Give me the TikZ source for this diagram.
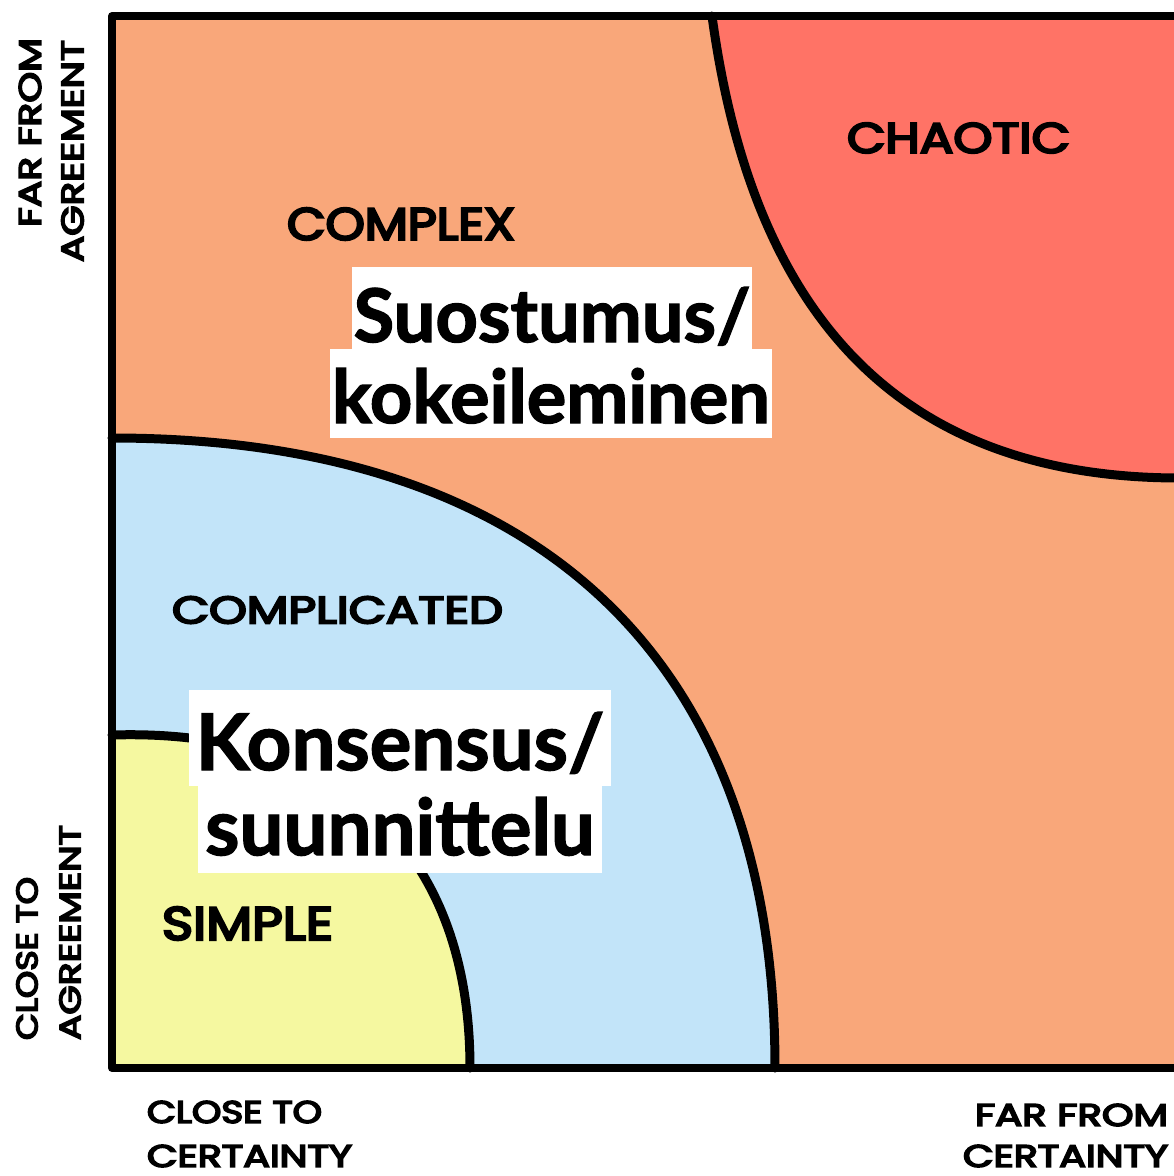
\documentclass[tikz,border=0pt]{standalone}
\usepackage{fontspec}
\usepackage{graphicx}
\setmainfont{Lato}
\newfontfamily\callfont{Lato}[BoldFeatures={FakeBold=1.8}]
\newfontfamily\hand{Poppins}
\definecolor{cOrange}{HTML}{F9A77A}
\definecolor{cRed}{HTML}{FF7366}
\definecolor{cBlue}{HTML}{C2E4F9}
\definecolor{cYellow}{HTML}{F5F8A0}
\newcommand{\handlbl}[3]{\resizebox{#1}{#2}{\special{pdf:code q 2 Tr 0.5 w 0 0 0 RG}\hand #3\special{pdf:code Q}}}
\begin{document}
\begin{tikzpicture}[x=1pt,y=-1pt,
  border/.style={line width=9pt, line join=round, line cap=round, draw=black},
  frame/.style={line width=8pt, line join=round, line cap=round, draw=black},
  lbl/.style={inner sep=0pt, anchor=center},
  callout/.style={fill=white, text=black, inner xsep=0pt, inner ysep=0pt, anchor=base,
    font=\callfont\bfseries\fontsize{74}{74}\selectfont},
  calloutb/.style={callout, font=\callfont\bfseries\fontsize{78}{78}\selectfont}]
\useasboundingbox (0,0) rectangle (1174,1176);
\fill[white] (0,0) rectangle (1174,1176);
% regions
\fill[cOrange] (112,16) rectangle (1180,1068);
\fill[cRed] (712,16) .. controls (748,280) and (870,478) .. (1180,478) -- (1180,16) -- cycle;
\fill[cBlue] (112,438) .. controls (540,438) and (775,660) .. (775,1068) -- (112,1068) -- cycle;
\fill[cYellow] (112,735) .. controls (340,728) and (470,850) .. (470,1068) -- (112,1068) -- cycle;
% boundaries
\draw[border] (712,16) .. controls (748,280) and (870,478) .. (1180,478);
\draw[border] (112,438) .. controls (540,438) and (775,660) .. (775,1068);
\draw[border] (112,735) .. controls (340,728) and (470,850) .. (470,1068);
\draw[frame] (1180,16) -- (112,16) -- (112,1068) -- (1180,1068);
% region labels
\node[lbl] (chaotic) at (958.5,138) {\handlbl{223pt}{30pt}{CHAOTIC}};
\node[lbl] (complex) at (401,224) {\handlbl{228pt}{32pt}{COMPLEX}};
\node[lbl] (complicated) at (337.5,610) {\handlbl{331pt}{27pt}{COMPLICATED}};
\node[lbl] (simple) at (247.5,923.5) {\handlbl{171pt}{33pt}{SIMPLE}};
% axis labels
\node[lbl, rotate=90] (farA1) at (30,132.5) {\handlbl{189pt}{22pt}{FAR FROM}};
\node[lbl, rotate=90] (farA2) at (72.5,151) {\handlbl{222pt}{22pt}{AGREEMENT}};
\node[lbl, rotate=90] (closeA1) at (27,958.5) {\handlbl{163pt}{21pt}{CLOSE TO}};
\node[lbl, rotate=90] (closeA2) at (70,932.5) {\handlbl{215pt}{21pt}{AGREEMENT}};
\node[lbl] (closeC1) at (234.5,1112) {\handlbl{175pt}{22pt}{CLOSE TO}};
\node[lbl] (closeC2) at (249.5,1156) {\handlbl{205pt}{22pt}{CERTAINTY}};
\node[lbl] (farC1) at (1071.5,1115) {\handlbl{193pt}{22pt}{FAR FROM}};
\node[lbl] (farC2) at (1065.5,1156) {\handlbl{205pt}{22pt}{CERTAINTY}};
% callouts
\node[callout, minimum width=400pt, text height=75pt, text depth=7pt] (c1a) at (552,342) {Suostumus/};
\node[callout, minimum width=442pt, text height=74pt, text depth=15pt] (c1b) at (551,423) {kokeileminen};
\node[calloutb, minimum width=422pt, text height=80pt, text depth=16pt] (c2a) at (400,770) {Konsensus/};
\node[calloutb, minimum width=404pt, text height=69pt, text depth=18pt] (c2b) at (400,855) {suunnittelu};
\end{tikzpicture}
\end{document}
